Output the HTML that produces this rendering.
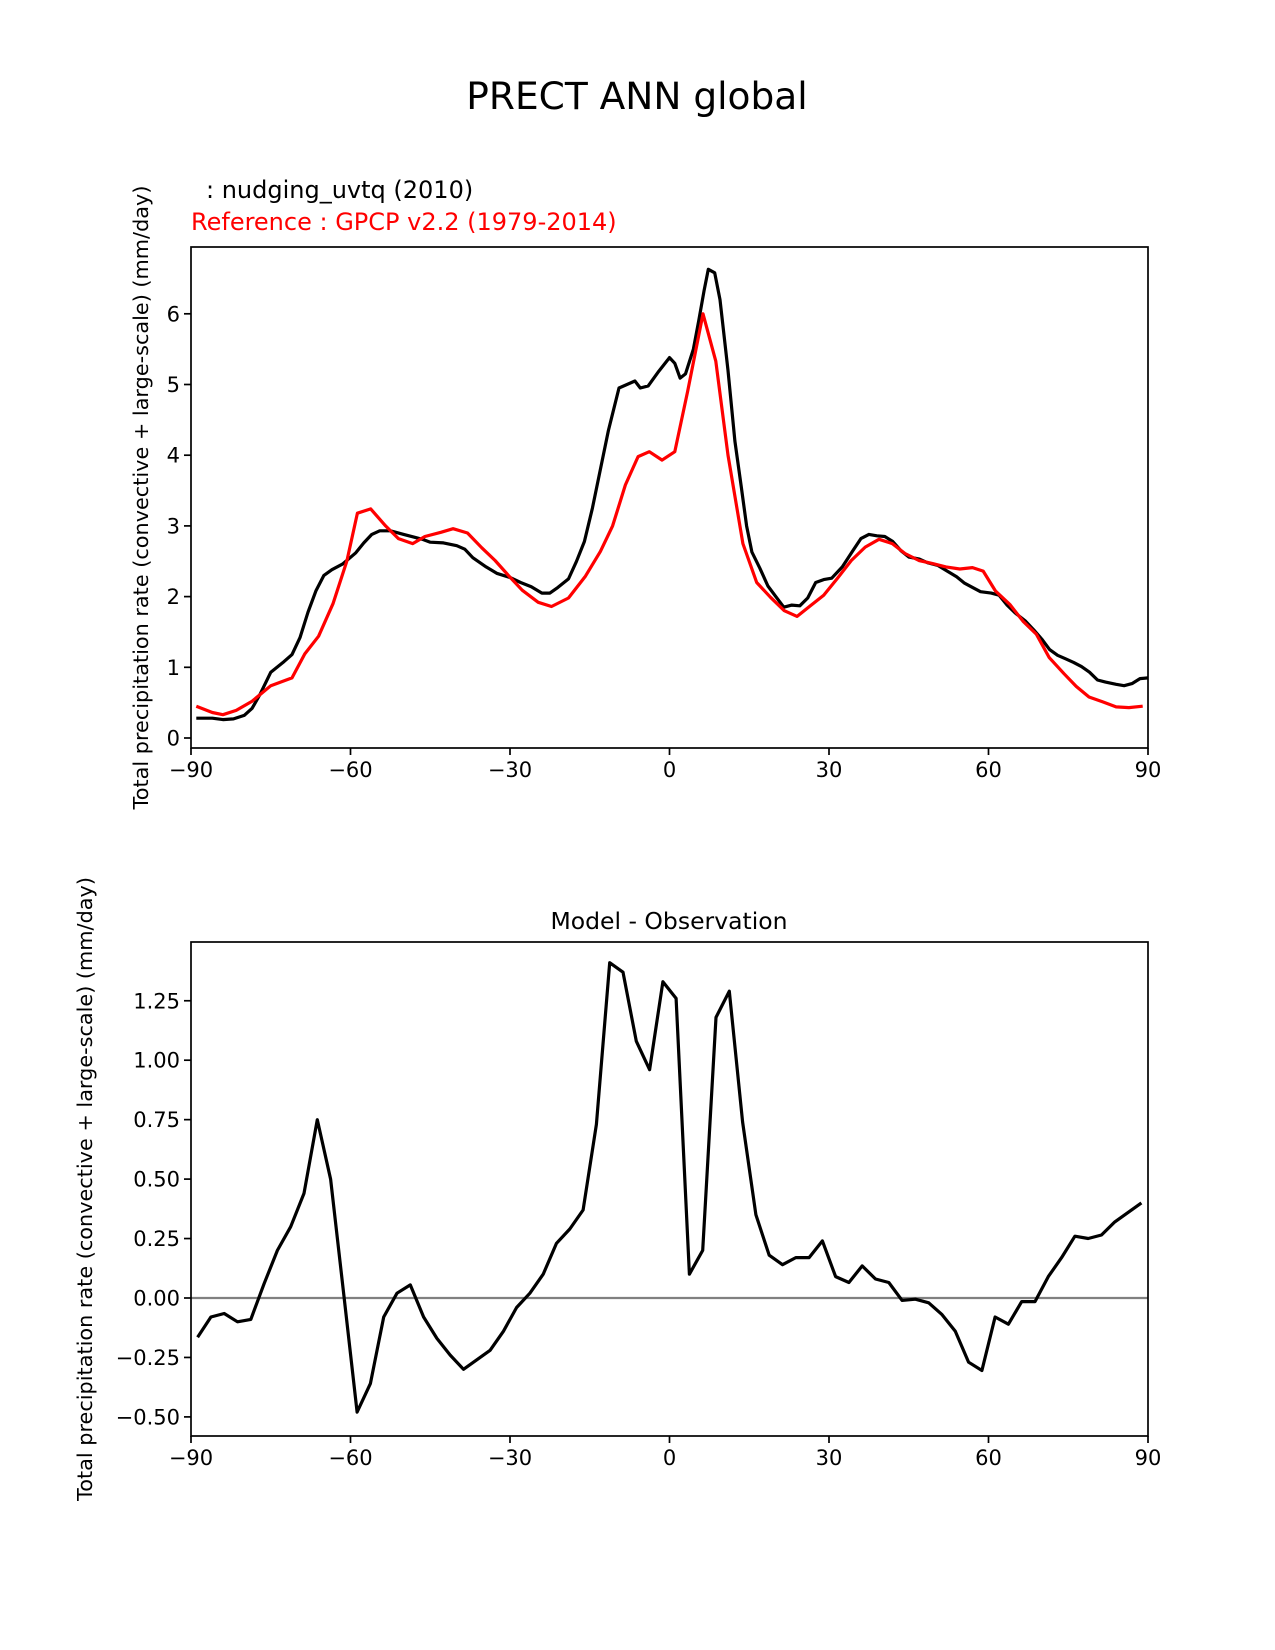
<!DOCTYPE html>
<html><head><meta charset="utf-8"><style>
html,body{margin:0;padding:0;background:#fff;}
svg{display:block;font-family:"DejaVu Sans","Liberation Sans",sans-serif;}
</style></head><body>
<svg id="fig" width="1275" height="1650" viewBox="0 0 1275 1650">
<text x="637" y="109" font-size="37.5" text-anchor="middle">PRECT ANN global</text>
<text x="206" y="198" font-size="24">  : nudging_uvtq (2010)</text>
<text x="191" y="230" font-size="24" fill="#ff0000">Reference : GPCP v2.2 (1979-2014)</text>
<text x="669" y="929" font-size="23.5" text-anchor="middle">Model - Observation</text>
<g id="top"></g>
<g id="bot"></g>
</svg>
<script>
const modelLat=[-89,-86,-84,-82,-80,-78.5,-77,-75,-72.5,-71,-69.5,-68,-66.5,-65,-63.5,-61.5,-59,-57.5,-56,-54.5,-52.5,-50,-48,-46.5,-45,-42.5,-40,-38.5,-37,-34.5,-32.5,-30,-28,-26,-24,-22.5,-21,-19,-17.5,-16,-14.5,-13,-11.5,-9.5,-6.5,-5.5,-4,-2,0,1,2,3,4.5,5.5,6.5,7.3,8.5,9.5,11,12.3,13.5,14.5,15.5,17,18.5,20,21.5,23,24.5,26,27.5,29,30.5,32.5,34.5,36,37.5,39,40.5,42,43.5,45,47,48.5,50.5,52,54,55.5,57,58.5,60.5,62,63.5,65,67,68.5,70,71.5,73,74.5,76,77.5,79,80.5,82,84,85.5,87,88.5,90];
const modelVal=[0.28,0.28,0.26,0.27,0.32,0.42,0.62,0.93,1.08,1.18,1.42,1.78,2.08,2.3,2.38,2.46,2.62,2.76,2.88,2.93,2.93,2.88,2.84,2.81,2.77,2.76,2.72,2.67,2.55,2.42,2.33,2.27,2.2,2.14,2.05,2.05,2.13,2.25,2.5,2.78,3.25,3.8,4.35,4.95,5.05,4.95,4.98,5.19,5.38,5.3,5.09,5.15,5.5,5.9,6.33,6.63,6.58,6.2,5.2,4.2,3.55,3.0,2.63,2.4,2.15,2.0,1.85,1.88,1.87,1.98,2.2,2.24,2.26,2.42,2.65,2.82,2.88,2.86,2.85,2.78,2.65,2.56,2.53,2.48,2.44,2.37,2.28,2.19,2.13,2.07,2.05,2.02,1.88,1.77,1.65,1.53,1.4,1.25,1.17,1.12,1.07,1.01,0.93,0.82,0.79,0.76,0.74,0.77,0.84,0.85];
const refLat=[-89,-86,-84,-81.5,-78.5,-75,-71,-68.6,-66,-63.3,-60.7,-58.7,-56.2,-53.4,-51,-48.3,-46,-43,-40.7,-38,-35.3,-32.8,-30.3,-27.7,-24.7,-22.2,-19,-15.8,-13,-10.7,-8.3,-5.9,-3.8,-1.4,1,3.4,6.3,8.7,11,13.8,16.4,19,21.6,24,26.5,29,31.6,34.2,36.8,39.4,41.9,44.3,46.9,49.4,52,54.6,57,59,61.3,64,66.5,69,71.4,74.2,76.5,78.9,81.5,84,86.4,89];
const refVal=[0.45,0.36,0.33,0.39,0.52,0.74,0.85,1.19,1.44,1.9,2.5,3.18,3.24,3.0,2.82,2.75,2.85,2.91,2.96,2.9,2.69,2.51,2.3,2.09,1.92,1.86,1.98,2.29,2.64,3.0,3.58,3.98,4.05,3.93,4.05,4.9,6.0,5.33,4.0,2.75,2.2,1.99,1.8,1.72,1.87,2.02,2.26,2.51,2.7,2.81,2.75,2.61,2.51,2.47,2.42,2.39,2.41,2.36,2.08,1.89,1.65,1.47,1.14,0.91,0.73,0.58,0.51,0.44,0.43,0.45];
const diffLat=[-88.75,-86.25,-83.75,-81.25,-78.75,-76.25,-73.75,-71.25,-68.75,-66.25,-63.75,-61.25,-58.75,-56.25,-53.75,-51.25,-48.75,-46.25,-43.75,-41.25,-38.75,-36.25,-33.75,-31.25,-28.75,-26.25,-23.75,-21.25,-18.75,-16.25,-13.75,-11.25,-8.75,-6.25,-3.75,-1.25,1.25,3.75,6.25,8.75,11.25,13.75,16.25,18.75,21.25,23.75,26.25,28.75,31.25,33.75,36.25,38.75,41.25,43.75,46.25,48.75,51.25,53.75,56.25,58.75,61.25,63.75,66.25,68.75,71.25,73.75,76.25,78.75,81.25,83.75,86.25,88.75];
const diffVal=[-0.165,-0.08,-0.065,-0.1,-0.09,0.06,0.2,0.3,0.44,0.75,0.5,0.01,-0.48,-0.36,-0.08,0.02,0.055,-0.08,-0.17,-0.24,-0.3,-0.26,-0.22,-0.14,-0.04,0.02,0.1,0.23,0.29,0.37,0.73,1.41,1.37,1.08,0.96,1.33,1.26,0.1,0.2,1.18,1.29,0.74,0.35,0.18,0.14,0.17,0.17,0.24,0.09,0.065,0.135,0.08,0.065,-0.01,-0.005,-0.02,-0.07,-0.14,-0.27,-0.305,-0.08,-0.11,-0.015,-0.015,0.09,0.17,0.26,0.25,0.265,0.32,0.36,0.4];
const xTicks=[-90,-60,-30,0,30,60,90];
const xTickLabels=["\u221290","\u221260","\u221230","0","30","60","90"];
const topYTicks=[0,1,2,3,4,5,6];
const botYTicks=[-0.5,-0.25,0,0.25,0.5,0.75,1.0,1.25];
const botYTickLabels=["\u22120.50","\u22120.25","0.00","0.25","0.50","0.75","1.00","1.25"];

const NS="http://www.w3.org/2000/svg";
function mk(parent,tag,attrs){const e=document.createElementNS(NS,tag);for(const k in attrs)e.setAttribute(k,attrs[k]);parent.appendChild(e);return e;}
const L=191,R=1148;
const xs=v=>L+(v+90)/180*(R-L);
function axes(g,top,bot,ys,yt,ylabels,ylabelX,name){
  const fr=mk(g,'rect',{x:L,y:top,width:R-L,height:bot-top,fill:'none',stroke:'#000','stroke-width':1.7});
  
  
  xTicks.forEach((t,i)=>{
    mk(g,'line',{x1:xs(t),x2:xs(t),y1:bot,y2:bot+7,stroke:'#000','stroke-width':1.7});
    const tx=mk(g,'text',{x:xs(t),y:bot+29,'font-size':21,'text-anchor':'middle'});
    tx.textContent=xTickLabels[i];
    
    
  });
  yt.forEach((t,i)=>{
    mk(g,'line',{x1:L-7,x2:L,y1:ys(t),y2:ys(t),stroke:'#000','stroke-width':1.7});
    const tx=mk(g,'text',{x:L-11,y:ys(t)+7.5,'font-size':21,'text-anchor':'end'});
    tx.textContent=ylabels?ylabels[i]:String(t);
    
    
  });
  const cy=(top+bot)/2;
  const yl=mk(g,'text',{x:ylabelX,y:cy,'font-size':20.8,'text-anchor':'middle',transform:`rotate(-90 ${ylabelX} ${cy})`});
  yl.textContent='Total precipitation rate (convective + large-scale) (mm/day)';
  
  
}
function line(g,lat,val,ys,color,name){
  const d=lat.map((v,i)=>(i?'L':'M')+xs(v).toFixed(1)+','+ys(val[i]).toFixed(1)).join(' ');
  const p=mk(g,'path',{d:d,fill:'none',stroke:color,'stroke-width':3.2,'stroke-linejoin':'round'});
  
  
}
const gT=document.getElementById('top');
const tTop=247,tBot=748,tZero=738,tPx=70.7;
const ysT=v=>tZero-v*tPx;
const clipT=mk(gT,'clipPath',{id:'ct'});mk(clipT,'rect',{x:L,y:tTop,width:R-L,height:tBot-tTop});
const gTl=mk(gT,'g',{'clip-path':'url(#ct)'});
line(gTl,modelLat,modelVal,ysT,'#000','model-line');
line(gTl,refLat,refVal,ysT,'#ff0000','reference-line');
axes(gT,tTop,tBot,ysT,topYTicks,null,148,'top');
const gB=document.getElementById('bot');
const bTop=942,bBot=1436,bZero=1298,bPx=237.8;
const ysB=v=>bZero-v*bPx;
const zl=mk(gB,'line',{x1:L,x2:R,y1:ysB(0),y2:ysB(0),stroke:'#808080','stroke-width':2.2});


line(gB,diffLat,diffVal,ysB,'#000','difference-line');
axes(gB,bTop,bBot,ysB,botYTicks,botYTickLabels,92,'diff');
</script>
</body></html>
